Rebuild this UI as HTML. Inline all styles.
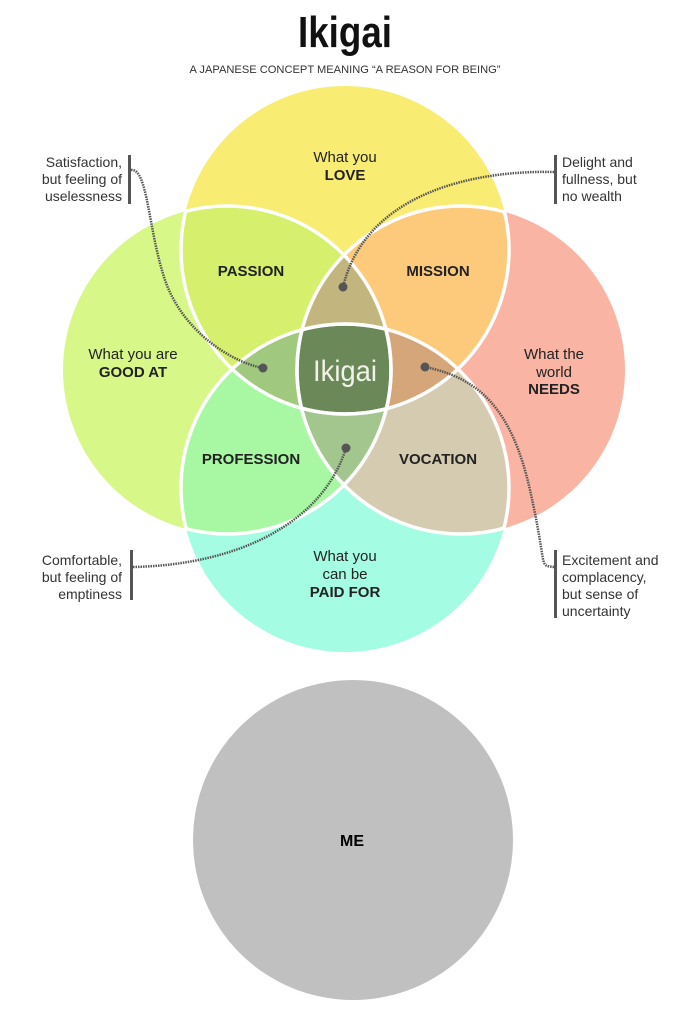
<!DOCTYPE html>
<html><head><meta charset="utf-8"><style>
html,body{margin:0;padding:0;background:#fff;}
svg{display:block;font-family:"Liberation Sans",sans-serif;}
</style></head><body>
<svg width="689" height="1031" viewBox="0 0 689 1031" xmlns="http://www.w3.org/2000/svg">
<defs>
<clipPath id="cT"><circle cx="345" cy="250" r="164"/></clipPath>
<clipPath id="cL"><circle cx="227" cy="370" r="164"/></clipPath>
<clipPath id="cR"><circle cx="461" cy="370" r="164"/></clipPath>
<clipPath id="cB"><circle cx="345" cy="488" r="164"/></clipPath>
</defs>
<text x="345" y="47" text-anchor="middle" font-size="44" font-weight="bold" fill="#111" textLength="94" lengthAdjust="spacingAndGlyphs">Ikigai</text>
<text x="345" y="73" text-anchor="middle" font-size="11" fill="#333" textLength="311" lengthAdjust="spacingAndGlyphs">A JAPANESE CONCEPT MEANING “A REASON FOR BEING”</text>

<circle cx="345" cy="250" r="164" fill="#f8ec72"/>
<circle cx="227" cy="370" r="164" fill="#d8f789"/>
<circle cx="461" cy="370" r="164" fill="#f9b4a4"/>
<circle cx="345" cy="488" r="164" fill="#a4fde2"/>
<g clip-path="url(#cT)"><circle cx="227" cy="370" r="164" fill="#d6ef6c"/></g>
<g clip-path="url(#cT)"><circle cx="461" cy="370" r="164" fill="#fdca7c"/></g>
<g clip-path="url(#cL)"><circle cx="345" cy="488" r="164" fill="#a8f8a3"/></g>
<g clip-path="url(#cR)"><circle cx="345" cy="488" r="164" fill="#d5cbb0"/></g>
<g clip-path="url(#cT)"><g clip-path="url(#cL)"><circle cx="461" cy="370" r="164" fill="#c2b57e"/></g></g>
<g clip-path="url(#cT)"><g clip-path="url(#cL)"><circle cx="345" cy="488" r="164" fill="#a0c97f"/></g></g>
<g clip-path="url(#cT)"><g clip-path="url(#cR)"><circle cx="345" cy="488" r="164" fill="#d4a67a"/></g></g>
<g clip-path="url(#cL)"><g clip-path="url(#cR)"><circle cx="345" cy="488" r="164" fill="#a3c68f"/></g></g>
<g clip-path="url(#cT)"><g clip-path="url(#cL)"><g clip-path="url(#cR)"><circle cx="345" cy="488" r="164" fill="#6b8858"/></g></g></g>
<g fill="none" stroke="#fff" stroke-width="3.5">
<g clip-path="url(#cL)"><circle cx="345" cy="250" r="164"/></g>
<g clip-path="url(#cR)"><circle cx="345" cy="250" r="164"/></g>
<g clip-path="url(#cT)"><circle cx="227" cy="370" r="164"/></g>
<g clip-path="url(#cB)"><circle cx="227" cy="370" r="164"/></g>
<g clip-path="url(#cT)"><circle cx="461" cy="370" r="164"/></g>
<g clip-path="url(#cB)"><circle cx="461" cy="370" r="164"/></g>
<g clip-path="url(#cL)"><circle cx="345" cy="488" r="164"/></g>
<g clip-path="url(#cR)"><circle cx="345" cy="488" r="164"/></g>
</g>

<g font-size="15" fill="#222" text-anchor="middle">
<text x="345" y="162">What you</text>
<text x="345" y="180" font-weight="bold">LOVE</text>
<text x="133" y="359">What you are</text>
<text x="133" y="377" font-weight="bold">GOOD AT</text>
<text x="554" y="359">What the</text>
<text x="554" y="377">world</text>
<text x="554" y="394" font-weight="bold">NEEDS</text>
<text x="345" y="561">What you</text>
<text x="345" y="579">can be</text>
<text x="345" y="597" font-weight="bold">PAID FOR</text>
<text x="251" y="276" font-weight="bold">PASSION</text>
<text x="438" y="276" font-weight="bold">MISSION</text>
<text x="251" y="464" font-weight="bold">PROFESSION</text>
<text x="438" y="464" font-weight="bold">VOCATION</text>
<text x="345" y="381" font-size="30" fill="#f2f2ea" textLength="64" lengthAdjust="spacingAndGlyphs">Ikigai</text>
</g>

<g font-size="14" fill="#333">
<g text-anchor="end">
<text x="122" y="167">Satisfaction,</text>
<text x="122" y="184">but feeling of</text>
<text x="122" y="201">uselessness</text>
<text x="122" y="565">Comfortable,</text>
<text x="122" y="582">but feeling of</text>
<text x="122" y="599">emptiness</text>
</g>
<text x="562" y="167">Delight and</text>
<text x="562" y="184">fullness, but</text>
<text x="562" y="201">no wealth</text>
<text x="562" y="565">Excitement and</text>
<text x="562" y="582">complacency,</text>
<text x="562" y="599">but sense of</text>
<text x="562" y="616">uncertainty</text>
</g>
<g fill="#555">
<rect x="128" y="155" width="3" height="49"/>
<rect x="130" y="550" width="3" height="50"/>
<rect x="554" y="155" width="3" height="49"/>
<rect x="554" y="550" width="3" height="68"/>
<circle cx="263" cy="368" r="4.5"/>
<circle cx="343" cy="287" r="4.5"/>
<circle cx="346" cy="448" r="4.5"/>
<circle cx="425" cy="367" r="4.5"/>
</g>
<g fill="none" stroke="#555" stroke-width="2.5" stroke-dasharray="1.5 1">
<path d="M131,170 C148,168 148,230 165,280 S230,362 263,368"/>
<path d="M554,172 C470,170 365,195 343,287"/>
<path d="M133,567 C235,565 322,525 346,448"/>
<path d="M425,367 C480,378 512,410 530,490 S538,565 554,567"/>
</g>

<circle cx="353" cy="840" r="160" fill="#c0c0c0"/>
<text x="352" y="846" text-anchor="middle" font-size="16" font-weight="bold" fill="#000">ME</text>
</svg>
</body></html>
